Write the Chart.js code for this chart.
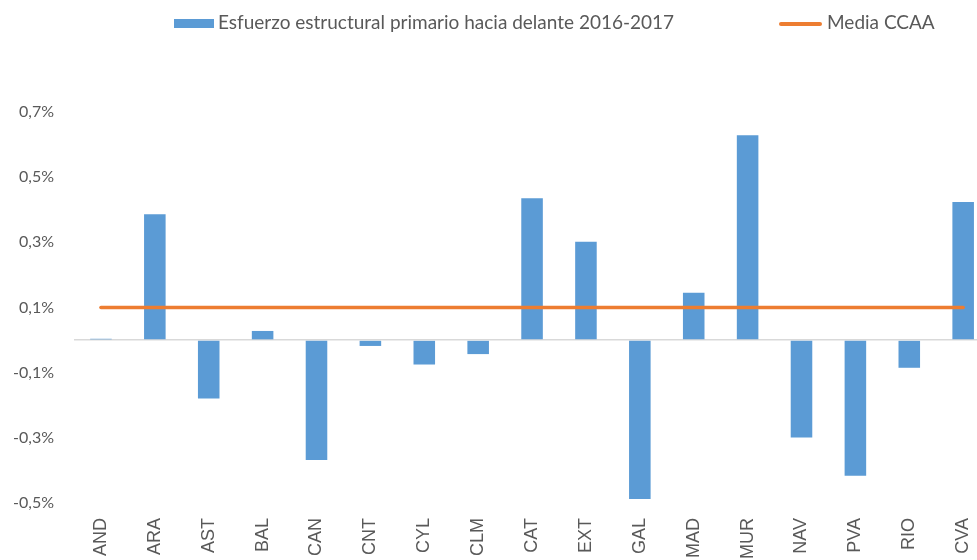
<!DOCTYPE html>
<html lang="es">
<head>
<meta charset="utf-8">
<title>Esfuerzo estructural primario</title>
<script src="https://cdn.jsdelivr.net/npm/chart.js@4.4.1/dist/chart.umd.min.js"></script>
<style>
    body { margin: 0; background: #fff; overflow: hidden; width: 977px; height: 560px; position: relative; }
    #chart-box { position: absolute; left: 0; top: 0; width: 1000px; height: 600px; }
    .legend { position: absolute; top: 0; left: 0; font-family: Lato, "Open Sans", sans-serif; font-size: 19px; color: #595959; }
    .legend .sw { position: absolute; }
    .legend .txt { position: absolute; top: 11px; white-space: nowrap; line-height: 22px; }
</style>
</head>
<body>
<div id="chart-box"><canvas id="esfuerzoChart" width="1000" height="600"></canvas></div>

<!-- Legend -->
<div class="legend">
    <div class="sw" style="left: 174px; top: 19px; width: 40px; height: 9px; background: #5B9BD5;"></div>
    <div class="txt" style="left: 218px;">Esfuerzo estructural primario hacia delante 2016-2017</div>
    <div class="sw" style="left: 779px; top: 22px; width: 43px; height: 4px; border-radius: 2px; background: #ED7D31;"></div>
    <div class="txt" style="left: 827px;">Media CCAA</div>
</div>

<script>
const categories = ['AND', 'ARA', 'AST', 'BAL', 'CAN', 'CNT', 'CYL', 'CLM', 'CAT', 'EXT', 'GAL', 'MAD', 'MUR', 'NAV', 'PVA', 'RIO', 'CVA'];
const esfuerzo = [0.004, 0.386, -0.179, 0.028, -0.368, -0.018, -0.075, -0.043, 0.435, 0.302, -0.488, 0.145, 0.629, -0.299, -0.416, -0.085, 0.424];
const mediaCCAA = [0.1, 0.1, 0.1, 0.1, 0.1, 0.1, 0.1, 0.1, 0.1, 0.1, 0.1, 0.1, 0.1, 0.1, 0.1, 0.1, 0.1];
const yTickValues = [-0.5, -0.3, -0.1, 0, 0.1, 0.3, 0.5, 0.7];

const ctx = document.getElementById('esfuerzoChart').getContext('2d');

new Chart(ctx, {
    data: {
        labels: categories,
        datasets: [
            {
                type: 'line',
                label: 'Media CCAA',
                data: mediaCCAA,
                borderColor: '#ED7D31',
                borderWidth: 3.5,
                borderCapStyle: 'round',
                pointRadius: 0,
                fill: false,
                order: 0
            },
            {
                type: 'bar',
                label: 'Esfuerzo estructural primario hacia delante 2016-2017',
                data: esfuerzo,
                backgroundColor: '#5B9BD5',
                borderWidth: 0,
                categoryPercentage: 1,
                barPercentage: 0.4,
                order: 1
            }
        ]
    },
    options: {
        responsive: false,
        animation: false,
        devicePixelRatio: 1,
        layout: { padding: { top: 112, left: 0, right: 8, bottom: 0 } },
        plugins: {
            legend: { display: false },
            tooltip: { enabled: false }
        },
        scales: {
            x: {
                grid: { display: false, drawTicks: false },
                border: { display: false },
                ticks: {
                    minRotation: 90,
                    maxRotation: 90,
                    padding: 15,
                    color: '#595959',
                    font: { family: '"Liberation Sans", Arial, sans-serif', size: 18 }
                },
                afterFit: (scale) => { scale.height = 97; }
            },
            y: {
                min: -0.5,
                max: 0.7,
                afterBuildTicks: (scale) => { scale.ticks = yTickValues.map(v => ({ value: v })); },
                afterFit: (scale) => { scale.width = 74; },
                grid: {
                    drawTicks: false,
                    color: (c) => c.tick && c.tick.value === 0 ? '#d9d9d9' : 'rgba(0,0,0,0)',
                    lineWidth: 1.5
                },
                border: { display: false },
                ticks: {
                    padding: 20,
                    color: '#595959',
                    font: { family: 'Lato, "Open Sans", sans-serif', size: 16 },
                    callback: (v) => v === 0 ? '' : v.toFixed(1).replace('.', ',') + '%'
                }
            }
        }
    }
});
</script>
</body>
</html>
